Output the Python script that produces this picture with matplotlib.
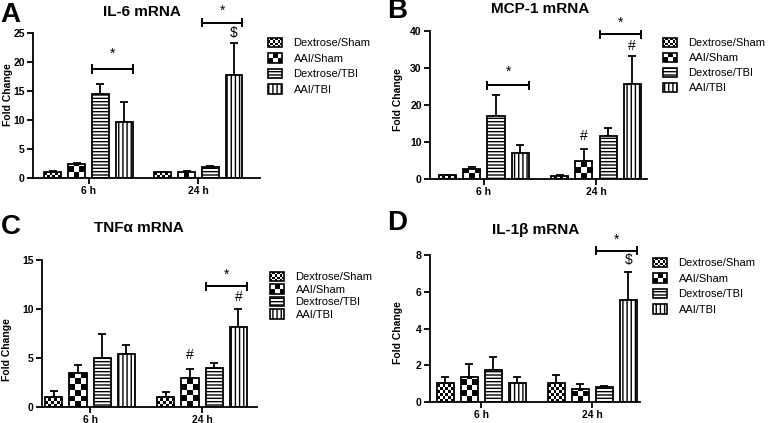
import numpy as np
import matplotlib
matplotlib.use('Agg')
import matplotlib.pyplot as plt
from matplotlib.patches import Patch, Rectangle
from matplotlib.legend_handler import HandlerBase

plt.rcParams['font.family'] = ['Liberation Sans', 'DejaVu Sans']
plt.rcParams['hatch.linewidth'] = 1.0

W, H = 771, 423

GRUPOS = ['Dextrose/Sham', 'AAI/Sham', 'Dextrose/TBI', 'AAI/TBI']
TEMPOS = ['6 h', '24 h']

# valores: [6 h, 24 h] x grupos
il6_media = [[1.0, 2.35, 14.4, 9.6], [1.0, 1.0, 1.95, 17.8]]
il6_erro = [[0.15, 0.2, 1.8, 3.5], [0.1, 0.15, 0.2, 5.4]]
il6_sinais = [(1, 3, '$', 25.0)]
il6_chaves = [(0, 18.8, 21.4), (1, 26.8, 28.9)]

mcp1_media = [[1.0, 2.8, 17.0, 6.9], [0.8, 4.8, 11.5, 25.8]]
mcp1_erro = [[0.2, 0.4, 5.6, 2.3], [0.2, 3.4, 2.3, 7.4]]
mcp1_sinais = [(1, 1, '#', 11.6), (1, 3, '#', 36.0)]
mcp1_chaves = [(0, 25.3, 29.0), (1, 39.1, 42.2)]

tnf_media = [[1.05, 3.45, 4.95, 5.4], [1.05, 2.93, 4.0, 8.2]]
tnf_erro = [[0.6, 0.8, 2.55, 0.9], [0.45, 0.92, 0.45, 1.8]]
tnf_sinais = [(1, 1, '#', 5.3), (1, 3, '#', 11.2)]
tnf_chaves = [(1, 12.3, 13.5)]

il1b_media = [[1.05, 1.38, 1.75, 1.05], [1.05, 0.7, 0.82, 5.55]]
il1b_erro = [[0.3, 0.68, 0.68, 0.3], [0.43, 0.27, 0.06, 1.55]]
il1b_sinais = [(1, 3, '$', 7.75)]
il1b_chaves = [(1, 8.23, 8.85)]

PASSO = 0.216
LARGURA = 0.153
# xadrez fino, xadrez grosso, linhas horizontais, linhas verticais
XADREZ = {0: 6, 1: 3}
HACHURAS = {2: '-----', 3: '||||'}


def px_ret(esq, topo, dir_, base):
    """Converte caixa em pixels (origem no topo) para coordenadas da figura."""
    return [esq / W, 1 - base / H, (dir_ - esq) / W, (base - topo) / H]


def preencher_xadrez(ax, barra, colunas):
    x0, y0 = barra.get_x(), barra.get_y()
    w, h = barra.get_width(), barra.get_height()
    if h <= 0:
        return
    (px0, py0), (px1, py1) = ax.transData.transform([(x0, y0), (x0 + w, y0 + h)])
    cel = (px1 - px0) / colunas
    linhas = max(1, int(np.ceil((py1 - py0) / cel)))
    arr = np.indices((linhas, colunas)).sum(axis=0) % 2
    altura = linhas * cel * h / (py1 - py0)
    img = ax.imshow(arr, cmap='gray_r', extent=(x0, x0 + w, y0, y0 + altura),
                    origin='lower', aspect='auto', interpolation='nearest', zorder=1.5)
    img.set_clip_path(barra)


class HandlerXadrez(HandlerBase):
    def __init__(self, nx, ny):
        super().__init__()
        self.nx, self.ny = nx, ny

    def create_artists(self, legend, orig_handle, xdescent, ydescent, width, height, fontsize, trans):
        artistas = [Rectangle((-xdescent, -ydescent), width, height, fc='white', ec='none', transform=trans)]
        cw, ch = width / self.nx, height / self.ny
        for i in range(self.nx):
            for j in range(self.ny):
                if (i + j) % 2 == 0:
                    artistas.append(Rectangle((-xdescent + i * cw, -ydescent + j * ch), cw, ch,
                                              fc='black', ec='none', transform=trans))
        artistas.append(Rectangle((-xdescent, -ydescent), width, height, fc='none', ec='black',
                                  lw=1.2, transform=trans))
        return artistas


def desenhar_painel(fig, caixa, xlim, ymax, passo_y, media, erro, sinais, chaves, leg_pos, leg_esp):
    ax = fig.add_axes(px_ret(*caixa))
    ax.set_xlim(*xlim)
    ax.set_ylim(0, ymax)
    media = np.array(media)
    erro = np.array(erro)
    barras_xadrez = []
    for g in range(4):
        xs = np.arange(2) + (g - 1.5) * PASSO
        if g in XADREZ:
            barras = ax.bar(xs, media[:, g], LARGURA, facecolor='none', edgecolor='black',
                            linewidth=1.3, zorder=2)
            barras_xadrez.extend((b, XADREZ[g]) for b in barras)
        else:
            ax.bar(xs, media[:, g], LARGURA, facecolor='white', edgecolor='black',
                   linewidth=1.3, hatch=HACHURAS[g], zorder=2)
        ax.errorbar(xs, media[:, g], yerr=[np.zeros(2), erro[:, g]], fmt='none', ecolor='black',
                    elinewidth=1.3, capsize=3, capthick=1.3, zorder=1)
    for b, n in barras_xadrez:
        preencher_xadrez(ax, b, n)
    ax.set_xlim(*xlim)
    ax.set_ylim(0, ymax)

    for t, g, s, y in sinais:
        ax.text(t + (g - 1.5) * PASSO, y, s, ha='center', va='center', fontsize=10, clip_on=False)
    for t, y, ys in chaves:
        xa = t + 0.5 * PASSO - LARGURA / 2
        xb = t + 1.5 * PASSO + LARGURA / 2
        ax.plot([xa, xb], [y, y], color='black', lw=1.4, clip_on=False)
        d = ymax * 0.025
        ax.plot([xa, xa], [y - d, y + d], color='black', lw=1.4, clip_on=False)
        ax.plot([xb, xb], [y - d, y + d], color='black', lw=1.4, clip_on=False)
        ax.text((xa + xb) / 2, ys, '*', ha='center', va='center', fontsize=10, clip_on=False)

    for lado in ['top', 'right']:
        ax.spines[lado].set_visible(False)
    for lado in ['left', 'bottom']:
        ax.spines[lado].set_linewidth(1.3)
    ax.set_xticks([0, 1])
    ax.set_xticklabels(TEMPOS, fontweight='bold')
    ax.set_yticks(np.arange(0, ymax + 0.01, passo_y))
    ax.tick_params(direction='out', length=4, width=1.3, labelsize=7.5, pad=2)
    for lab in ax.get_yticklabels():
        lab.set_fontweight('bold')

    alcas = [Patch(), Patch(),
             Patch(facecolor='white', edgecolor='black', hatch=HACHURAS[2], linewidth=1.2),
             Patch(facecolor='white', edgecolor='black', hatch=HACHURAS[3], linewidth=1.2)]
    mapa = {alcas[0]: HandlerXadrez(6, 4), alcas[1]: HandlerXadrez(3, 2)}
    ax.legend(alcas, GRUPOS, handler_map=mapa, loc='upper left',
              bbox_to_anchor=(leg_pos[0] / W, 1 - leg_pos[1] / H), bbox_transform=fig.transFigure,
              frameon=False, fontsize=8, handlelength=1.3, handleheight=0.9, handletextpad=1.0,
              labelspacing=leg_esp, borderpad=0, borderaxespad=0)
    return ax


fig = plt.figure(figsize=(W / 100, H / 100), dpi=100)

desenhar_painel(fig, (33, 33, 260, 178), (-0.505, 1.56), 25, 5, il6_media, il6_erro,
                il6_sinais, il6_chaves, (268, 38), 0.45)
desenhar_painel(fig, (430, 31, 647, 179), (-0.48, 1.455), 40, 10, mcp1_media, mcp1_erro,
                mcp1_sinais, mcp1_chaves, (663, 38), 0.4)
desenhar_painel(fig, (42, 260, 257, 407), (-0.43, 1.49), 15, 5, tnf_media, tnf_erro,
                tnf_sinais, tnf_chaves, (270, 272), 0.18)
desenhar_painel(fig, (430, 255, 640, 402), (-0.46, 1.43), 8, 2, il1b_media, il1b_erro,
                il1b_sinais, il1b_chaves, (653, 258), 0.45)

titulos = [('IL-6 mRNA', 142, 12), ('MCP-1 mRNA', 540, 9), ('TNF\u03b1 mRNA', 139, 228),
           ('IL-1\u03b2 mRNA', 536, 230)]
for txt, x, y in titulos:
    fig.text(x / W, 1 - y / H, txt, ha='center', va='center', fontsize=11, fontweight='bold')

letras = [('A', 10, 15), ('B', 397, 11), ('C', 11, 227), ('D', 397, 223)]
for txt, x, y in letras:
    fig.text(x / W, 1 - y / H, txt, ha='center', va='center', fontsize=20, fontweight='bold')

rotulos_y = [(8, 95), (398, 100), (7, 350), (398, 333)]
for x, y in rotulos_y:
    fig.text(x / W, 1 - y / H, 'Fold Change', ha='center', va='center', rotation=90,
             fontsize=7.5, fontweight='bold')

fig.savefig('out.png', dpi=100)
